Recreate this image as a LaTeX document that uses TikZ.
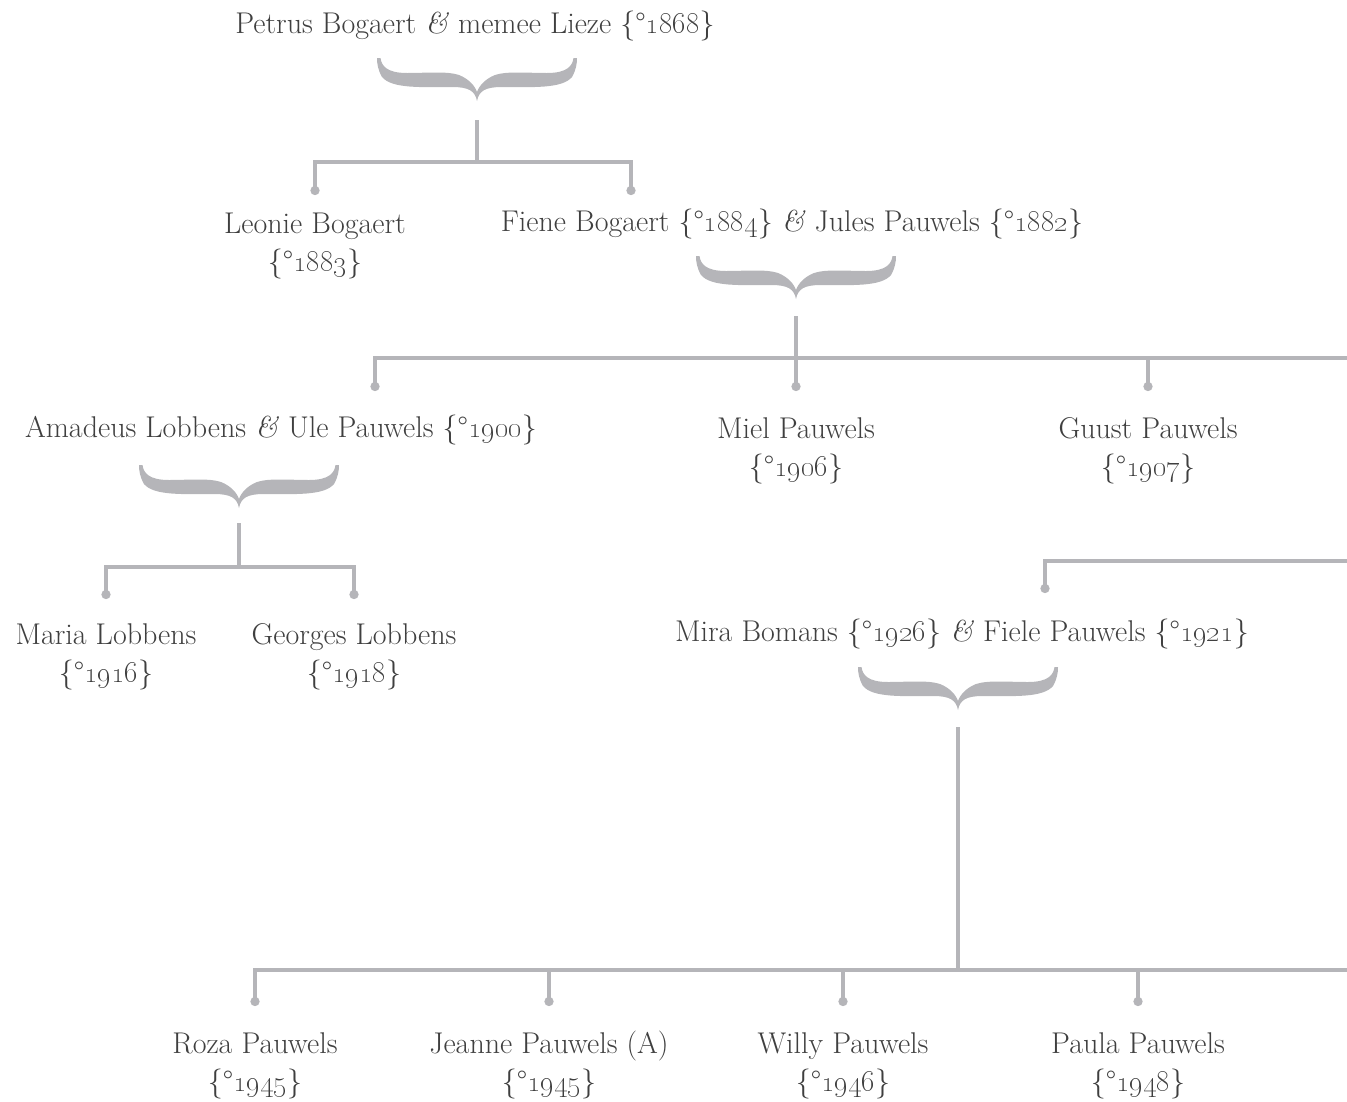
\documentclass[tikz,border=0pt]{standalone}
\usepackage{tikz}
\usetikzlibrary{positioning,arrows.meta}
\definecolor{treegray}{HTML}{B5B5B9}
\definecolor{inkgray}{HTML}{3F3F3F}
\newcommand{\born}[1]{\{°\oldstylenums{#1}\}}
\newcommand{\en}{\textit{\&}}

\tikzset{
	person/.style={text=inkgray, font=\fontsize{30}{38}\selectfont, inner sep=0pt, anchor=base, align=center},
	link/.style={draw=treegray, line width=4pt},
	kid/.style={link, -{Circle[length=9pt]}},
	pics/famBrace/.style={code={
		\fill[treegray] (0,43) .. controls (2,33) and (8,29) .. (25,29) .. controls (55,29) and (85,31) .. (95,19) .. controls (99,12) and (100,6) .. (100,0) -- (96.5,0) .. controls (95.5,8) and (90,15) .. (70,15) .. controls (50,15) and (30,13) .. (18,17) .. controls (8,21) and (2,28) .. (0,34)
			.. controls (-2,28) and (-8,21) .. (-18,17) .. controls (-30,13) and (-50,15) .. (-70,15) .. controls (-90,15) and (-95.5,8) .. (-96.5,0) -- (-100,0) .. controls (-100,6) and (-99,12) .. (-95,19) .. controls (-85,31) and (-55,29) .. (-25,29) .. controls (-8,29) and (-2,33) .. (0,43) -- cycle;
	}}
}

\begin{document}
\begin{tikzpicture}[x=1pt, y=-1pt]
	\useasboundingbox (0,0) rectangle (1347,1101);

	% generation 1
	\node[person] (petrus) at (475,33) {Petrus Bogaert \en{} memee Lieze \born{1868}};
	\pic at (477,58) {famBrace};
	\coordinate (s1) at (477,120);
	\coordinate (j1) at (477,162);
	\coordinate (leonie) at (315,195);
	\coordinate (fiene) at (631,195);
	\draw[link] (s1) -- (j1);
	\draw[kid] (j1) -| (leonie);
	\draw[kid] (j1) -| (fiene);

	% generation 2 (multi-line names sit on their last line)
	\node[person] (leonieT) at (315,271) {Leonie Bogaert\\\born{1883}};
	\node[person] (fieneT) at (792,231) {Fiene Bogaert \born{1884} \en{} Jules Pauwels \born{1882}};
	\pic at (796,256) {famBrace};
	\coordinate (s2) at (796,316);
	\coordinate (j2) at (796,358);
	\coordinate (e2) at (1347,358);
	\coordinate (ule) at (375,391);
	\coordinate (miel) at (796,391);
	\coordinate (guust) at (1148,391);
	\draw[link] (s2) -- (j2) -- (e2);
	\draw[kid] (j2) -| (ule);
	\draw[kid] (j2) -- (miel);
	\draw[kid] (j2) -| (guust);

	% generation 3
	\node[person] (uleT) at (281,437) {Amadeus Lobbens \en{} Ule Pauwels \born{1900}};
	\node[person] (mielT) at (796,476) {Miel Pauwels\\\born{1906}};
	\node[person] (guustT) at (1148,476) {Guust Pauwels\\\born{1907}};
	\pic at (239,465) {famBrace};
	\coordinate (s3) at (239,523);
	\coordinate (j3) at (239,567);
	\coordinate (maria) at (106,599);
	\coordinate (georges) at (354,599);
	\draw[link] (s3) -- (j3);
	\draw[kid] (j3) -| (maria);
	\draw[kid] (j3) -| (georges);
	\node[person] (mariaT) at (106,682) {Maria Lobbens\\\born{1916}};
	\node[person] (georgesT) at (354,682) {Georges Lobbens\\\born{1918}};

	\coordinate (e3) at (1347,561);
	\coordinate (fiele) at (1045,593);
	\draw[kid] (e3) -| (fiele);
	\node[person] (fieleT) at (962,641) {Mira Bomans \born{1926} \en{} Fiele Pauwels \born{1921}};
	\pic at (958,667) {famBrace};

	% generation 4
	\coordinate (s4) at (958,727);
	\coordinate (j4) at (958,970);
	\coordinate (e4) at (1347,970);
	\coordinate (roza) at (255,1006);
	\coordinate (jeanne) at (549,1006);
	\coordinate (willy) at (843,1006);
	\coordinate (paula) at (1138,1006);
	\draw[link] (s4) -- (j4) -- (e4);
	\draw[kid] (j4) -| (roza);
	\draw[kid] (j4) -| (jeanne);
	\draw[kid] (j4) -| (willy);
	\draw[kid] (j4) -| (paula);
	\node[person] (rozaT) at (255,1091) {Roza Pauwels\\\born{1945}};
	\node[person] (jeanneT) at (549,1091) {Jeanne Pauwels (A)\\\born{1945}};
	\node[person] (willyT) at (843,1091) {Willy Pauwels\\\born{1946}};
	\node[person] (paulaT) at (1138,1091) {Paula Pauwels\\\born{1948}};
\end{tikzpicture}
\end{document}
